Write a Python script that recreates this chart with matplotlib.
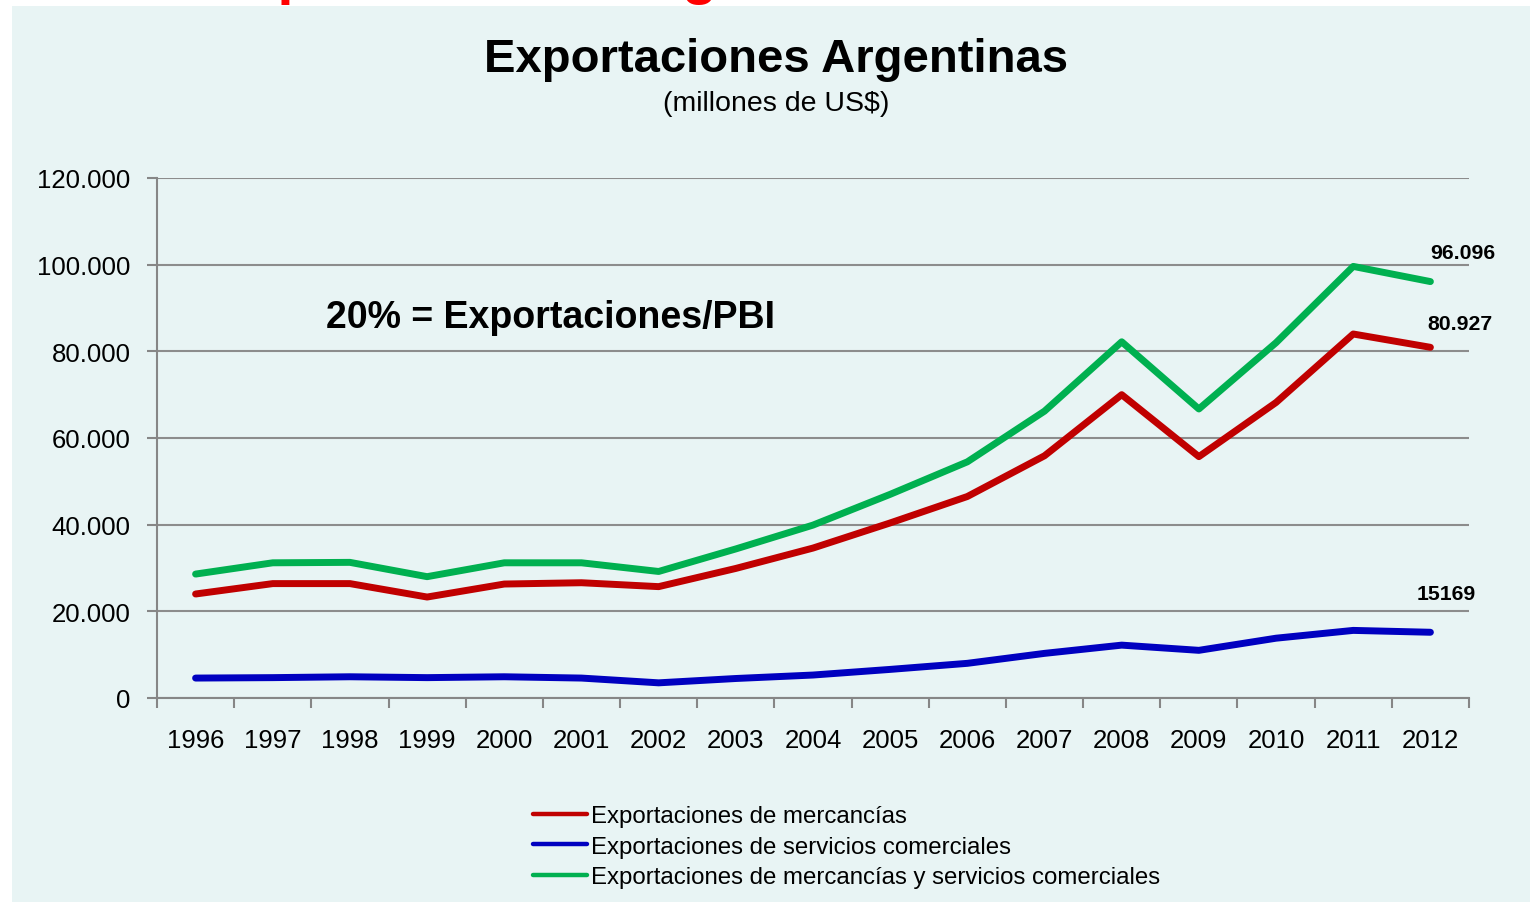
import matplotlib
matplotlib.use("Agg")
import matplotlib.pyplot as plt
from matplotlib.patches import Rectangle
from matplotlib.ticker import FuncFormatter, FixedLocator

plt.rcParams['font.family'] = ['Liberation Sans', 'DejaVu Sans']

# Data (millones de US$)
years = ['1996', '1997', '1998', '1999', '2000', '2001', '2002', '2003', '2004',
         '2005', '2006', '2007', '2008', '2009', '2010', '2011', '2012']
mercancias = [24000, 26400, 26400, 23300, 26300, 26600, 25700, 29900, 34600,
              40400, 46500, 55900, 70000, 55700, 68200, 84000, 80927]
servicios = [4600, 4700, 4900, 4700, 4900, 4600, 3500, 4500, 5300,
             6600, 8000, 10300, 12200, 11000, 13800, 15600, 15169]
total = [28600, 31200, 31300, 28000, 31200, 31200, 29200, 34400, 39900,
         47000, 54500, 66200, 82200, 66700, 82000, 99600, 96096]

labels = ['Exportaciones de mercancías',
          'Exportaciones de servicios comerciales',
          'Exportaciones de mercancías y servicios comerciales']
colors = ['#C00000', '#0000C0', '#00B050']

W, H = 1530, 903
fig = plt.figure(figsize=(W / 100, H / 100), dpi=100)
fig.patch.set_facecolor('white')

# light panel behind the chart
fig.add_artist(Rectangle((12 / W, 0), 1 - 12 / W, 1 - 7 / H,
                         transform=fig.transFigure, facecolor='#E8F4F4',
                         edgecolor='none', zorder=0))

# slide title above the panel, mostly cut off by the top edge (as in the reference)
fig.text(207 / W, 1 + 7 / H, 'Exportaciones Argentinas', color='#FF0000',
         fontsize=41.5, fontweight='bold', ha='left', va='baseline')

ax = fig.add_axes([157 / W, 1 - 699 / H, (1469 - 157) / W, (699 - 179) / H])
ax.set_facecolor('none')

x = range(len(years))
for vals, c, lab in zip([mercancias, servicios, total], colors, labels):
    ax.plot(x, vals, color=c, lw=5, solid_capstyle='round', label=lab, zorder=3)

ax.set_xlim(-0.5, len(years) - 0.5)
ax.set_ylim(0, 120000)
ax.set_yticks(range(0, 120001, 20000))
ax.yaxis.set_major_formatter(FuncFormatter(lambda v, p: f'{int(v):,}'.replace(',', '.')))

ax.set_xticks(list(x))
ax.set_xticklabels(years)
ax.xaxis.set_minor_locator(FixedLocator([i - 0.5 for i in range(len(years) + 1)]))
ax.tick_params(axis='x', which='major', length=0, pad=21.5, labelsize=18.5)
ax.tick_params(axis='x', which='minor', length=7, width=1.5, color='#868686', direction='out')
ax.tick_params(axis='y', length=7, width=1.5, color='#868686', pad=12, labelsize=18.5)

ax.grid(axis='y', color='#8C8C8C', lw=1.5, zorder=1)
for s in ['top', 'right']:
    ax.spines[s].set_visible(False)
for s in ['left', 'bottom']:
    ax.spines[s].set_color('#868686')
    ax.spines[s].set_linewidth(1.5)

# end-of-series value labels
ax.text(16.42, 96096 + 6800, '96.096', fontsize=15.3, fontweight='bold', ha='center', va='center')
ax.text(16.38, 80927 + 5600, '80.927', fontsize=15.3, fontweight='bold', ha='center', va='center')
ax.text(16.2, 15169 + 8900, '15169', fontsize=15.3, fontweight='bold', ha='center', va='center')

# titles and note
fig.text(776 / W, 1 - 60 / H, 'Exportaciones Argentinas', fontsize=34, fontweight='bold',
         ha='center', va='center')
fig.text(776 / W, 1 - 104 / H, '(millones de US$)', fontsize=20.5, ha='center', va='center')
fig.text(326 / W, 1 - 318 / H, '20% = Exportaciones/PBI', fontsize=27, fontweight='bold',
         ha='left', va='center')

leg = ax.legend(loc='upper left', bbox_to_anchor=(533 / W, 1 - 806 / H),
                bbox_transform=fig.transFigure, frameon=False, fontsize=17.3,
                handlelength=2.25, handletextpad=0.15, labelspacing=0.36,
                borderpad=0, borderaxespad=0)
for line in leg.get_lines():
    line.set_linewidth(3.2)

fig.savefig('out.png', dpi=100, facecolor=fig.get_facecolor())
